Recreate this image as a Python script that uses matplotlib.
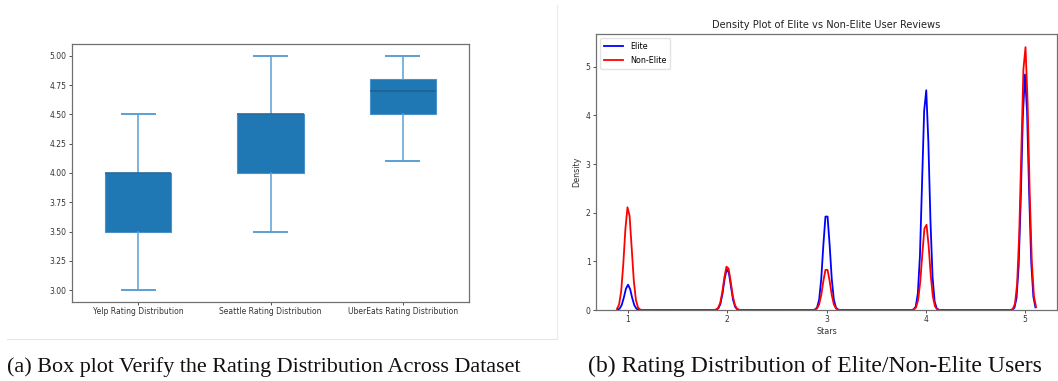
import numpy as np
import matplotlib.pyplot as plt

# ---- panel (a): rating summaries per dataset ----
datasets = ['Yelp Rating Distribution', 'Seattle Rating Distribution', 'UberEats Rating Distribution']
whisker_low = [3.0, 3.5, 4.1]
quart_1 = [3.5, 4.0, 4.5]
medians = [4.0, 4.5, 4.7]
quart_3 = [4.0, 4.5, 4.8]
whisker_high = [4.5, 5.0, 5.0]

# ---- panel (b): KDE peak density at each star ----
stars = [1, 2, 3, 4, 5]
elite_peak = [0.52, 0.85, 2.01, 4.56, 4.84]
non_elite_peak = [2.13, 0.91, 0.86, 1.79, 5.45]
elite_bw = 0.035
non_elite_bw = 0.037

cap_a = '(a) Box plot Verify the Rating Distribution Across Dataset'
cap_b = '(b) Rating Distribution of Elite/Non-Elite Users'

plt.rcParams['font.family'] = 'DejaVu Sans'
fig = plt.figure(figsize=(10.58, 3.81), dpi=100)
W, H = 1058, 381


def px_axes(x0, y0, x1, y1):
    return fig.add_axes([x0 / W, 1 - y1 / H, (x1 - x0) / W, (y1 - y0) / H])


def style_axes(ax):
    for s in ax.spines.values():
        s.set_color('#707070')
        s.set_linewidth(0.9)
    ax.tick_params(labelsize=5.5, length=2.2, width=0.6, pad=1.6,
                   colors='#333333', labelcolor='#333333')


def kde_curve(peaks, bw, n=200):
    # seaborn style grid, cut at 3 bandwidths
    xs = np.linspace(min(stars) - 3 * bw, max(stars) + 3 * bw, n)
    ys = np.zeros_like(xs)
    for s, p in zip(stars, peaks):
        ys += p * np.exp(-0.5 * ((xs - s) / bw) ** 2)
    return xs, ys


# faint screenshot border around panel (a)
fig.add_artist(plt.Line2D([7 / W, 557 / W], [1 - 339 / H, 1 - 339 / H], color='#e6e6e6', lw=0.8))
fig.add_artist(plt.Line2D([557 / W, 557 / W], [1 - 5 / H, 1 - 339 / H], color='#ececec', lw=0.8))

# ---- box plot ----
ax1 = px_axes(72, 44, 469, 302)
stats = []
for lab, lo, q1, med, q3, hi in zip(datasets, whisker_low, quart_1, medians, quart_3, whisker_high):
    stats.append(dict(label=lab, whislo=lo, q1=q1, med=med, q3=q3, whishi=hi, fliers=[]))
line_c = '#5a9fd4'
ax1.bxp(stats, widths=0.5, patch_artist=True, showfliers=False,
        boxprops=dict(facecolor='#1f77b4', edgecolor='#4a92c9', linewidth=0.8),
        whiskerprops=dict(color=line_c, linewidth=1.1),
        capprops=dict(color=line_c, linewidth=1.4),
        medianprops=dict(color='#1d5f8f', linewidth=1.1))
ax1.set_yticks([3.0, 3.25, 3.5, 3.75, 4.0, 4.25, 4.5, 4.75, 5.0])
ax1.set_yticklabels(['%.2f' % v for v in [3.0, 3.25, 3.5, 3.75, 4.0, 4.25, 4.5, 4.75, 5.0]])
style_axes(ax1)

# ---- density plot ----
ax2 = px_axes(596, 34, 1057, 310)
xe, ye = kde_curve(elite_peak, elite_bw)
xn, yn = kde_curve(non_elite_peak, non_elite_bw)
ax2.plot(xe, ye, color='blue', lw=1.3, label='Elite')
ax2.plot(xn, yn, color='red', lw=1.3, label='Non-Elite')
ax2.set_ylim(bottom=0)
ax2.set_title('Density Plot of Elite vs Non-Elite User Reviews', fontsize=7.1, pad=4, color='#222222')
ax2.set_xlabel('Stars', fontsize=5.8, labelpad=2, color='#333333')
ax2.set_ylabel('Density', fontsize=5.8, labelpad=3, color='#333333')
ax2.legend(loc='upper left', fontsize=5.8, handlelength=2.4, borderpad=0.5,
           labelspacing=0.6, framealpha=0.8, edgecolor='#dddddd', fancybox=True)
style_axes(ax2)

# captions
fig.text(263.5 / W, 1 - 372 / H, cap_a, ha='center', va='baseline',
         family='Liberation Serif', fontsize=15.9, color='#111111')
fig.text(815 / W, 1 - 372 / H, cap_b, ha='center', va='baseline',
         family='Liberation Serif', fontsize=17.1, color='#111111')

fig.savefig('out.png', dpi=100)
